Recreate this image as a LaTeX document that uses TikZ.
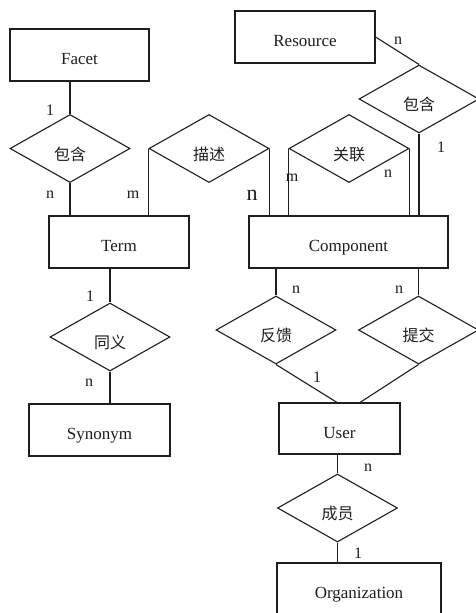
\documentclass[tikz,border=0pt]{standalone}
\usepackage{fontspec}
\setmainfont{Liberation Serif}
\newfontfamily\cjk{Noto Sans CJK SC}
\usetikzlibrary{shapes.geometric,calc}
\definecolor{ink}{HTML}{1E1E1E}
\begin{document}
\begin{tikzpicture}[x=1pt,y=-1pt, line width=1.1pt, draw=ink, text=ink,
 ent/.style={draw, minimum height=52pt, inner sep=0pt, text height=19.5pt, text depth=0pt, font=\fontsize{17}{19}\selectfont},
 rel/.style={draw, diamond, minimum width=120pt, minimum height=68pt, inner sep=0pt, text height=23pt, text depth=0pt, font=\cjk\fontsize{16}{18}\selectfont},
 card/.style={font=\fontsize{16}{18}\selectfont, inner sep=0pt}]
\useasboundingbox (0,0) rectangle (476,613);
\fill[white] (0,0) rectangle (476,613);
% entities
\node[ent, minimum width=139pt] (facet) at (79.5,55) {Facet};
\node[ent, minimum width=140pt] (resource) at (305,37) {Resource};
\node[ent, minimum width=140pt] (term) at (119,242) {Term};
\node[ent, minimum width=199pt] (comp) at (348.5,242) {Component};
\node[ent, minimum width=141pt] (syn) at (99.5,430) {Synonym};
\node[ent, minimum width=121pt, minimum height=51pt] (user) at (339.5,428.5) {User};
\node[ent, minimum width=164pt] (org) at (359,589) {Organization};
% relationships
\node[rel] (r1) at (70,148.5) {包含};
\node[rel] (r2) at (209,148.5) {描述};
\node[rel] (r3) at (349,148.5) {关联};
\node[rel] (r4) at (419,99) {包含};
\node[rel] (r5) at (276,330) {反馈};
\node[rel] (r6) at (418.5,330) {提交};
\node[rel] (r7) at (337.5,508) {成员};
\node[rel] (r8) at (110,337) {同义};
% connectors
\draw (r1.north) -- (r1.north |- facet.south);
\draw (r1.south) -- (r1.south |- term.north);
\draw (r2.west) -- (r2.west |- term.north);
\draw (r2.east) -- (r2.east |- comp.north);
\draw (r3.west) -- (r3.west |- comp.north);
\draw (r3.east) -- (r3.east |- comp.north);
\draw (resource.east) -- (r4.north);
\draw (r4.south) -- (r4.south |- comp.north);
\draw (r5.north) -- (r5.north |- comp.south);
\draw (r6.north) -- (r6.north |- comp.south);
\draw (r5.south) -- ([xshift=-2.5pt]user.north);
\draw (r6.south) -- ([xshift=20.5pt]user.north);
\draw (r8.north) -- (r8.north |- term.south);
\draw (r8.south) -- (r8.south |- syn.north);
\draw (r7.north) -- (r7.north |- user.south);
\draw (r7.south) -- (r7.south |- org.north);
% cardinalities
\node[card] (c1) at (50,110) {1};
\node[card] (c2) at (50,195) {n};
\node[card] (c3) at (133,195) {m};
\node[card, font=\fontsize{22}{24}\selectfont] (c4) at (252,195) {n};
\node[card] (c5) at (292,178) {m};
\node[card] (c6) at (388,174) {n};
\node[card] (c7) at (398,41) {n};
\node[card] (c8) at (441,147) {1};
\node[card] (c9) at (296,290) {n};
\node[card] (c10) at (399,290) {n};
\node[card] (c11) at (317,377) {1};
\node[card] (c12) at (368,468) {n};
\node[card] (c13) at (358,553) {1};
\node[card] (c14) at (90,296) {1};
\node[card] (c15) at (89,383) {n};
\end{tikzpicture}
\end{document}
